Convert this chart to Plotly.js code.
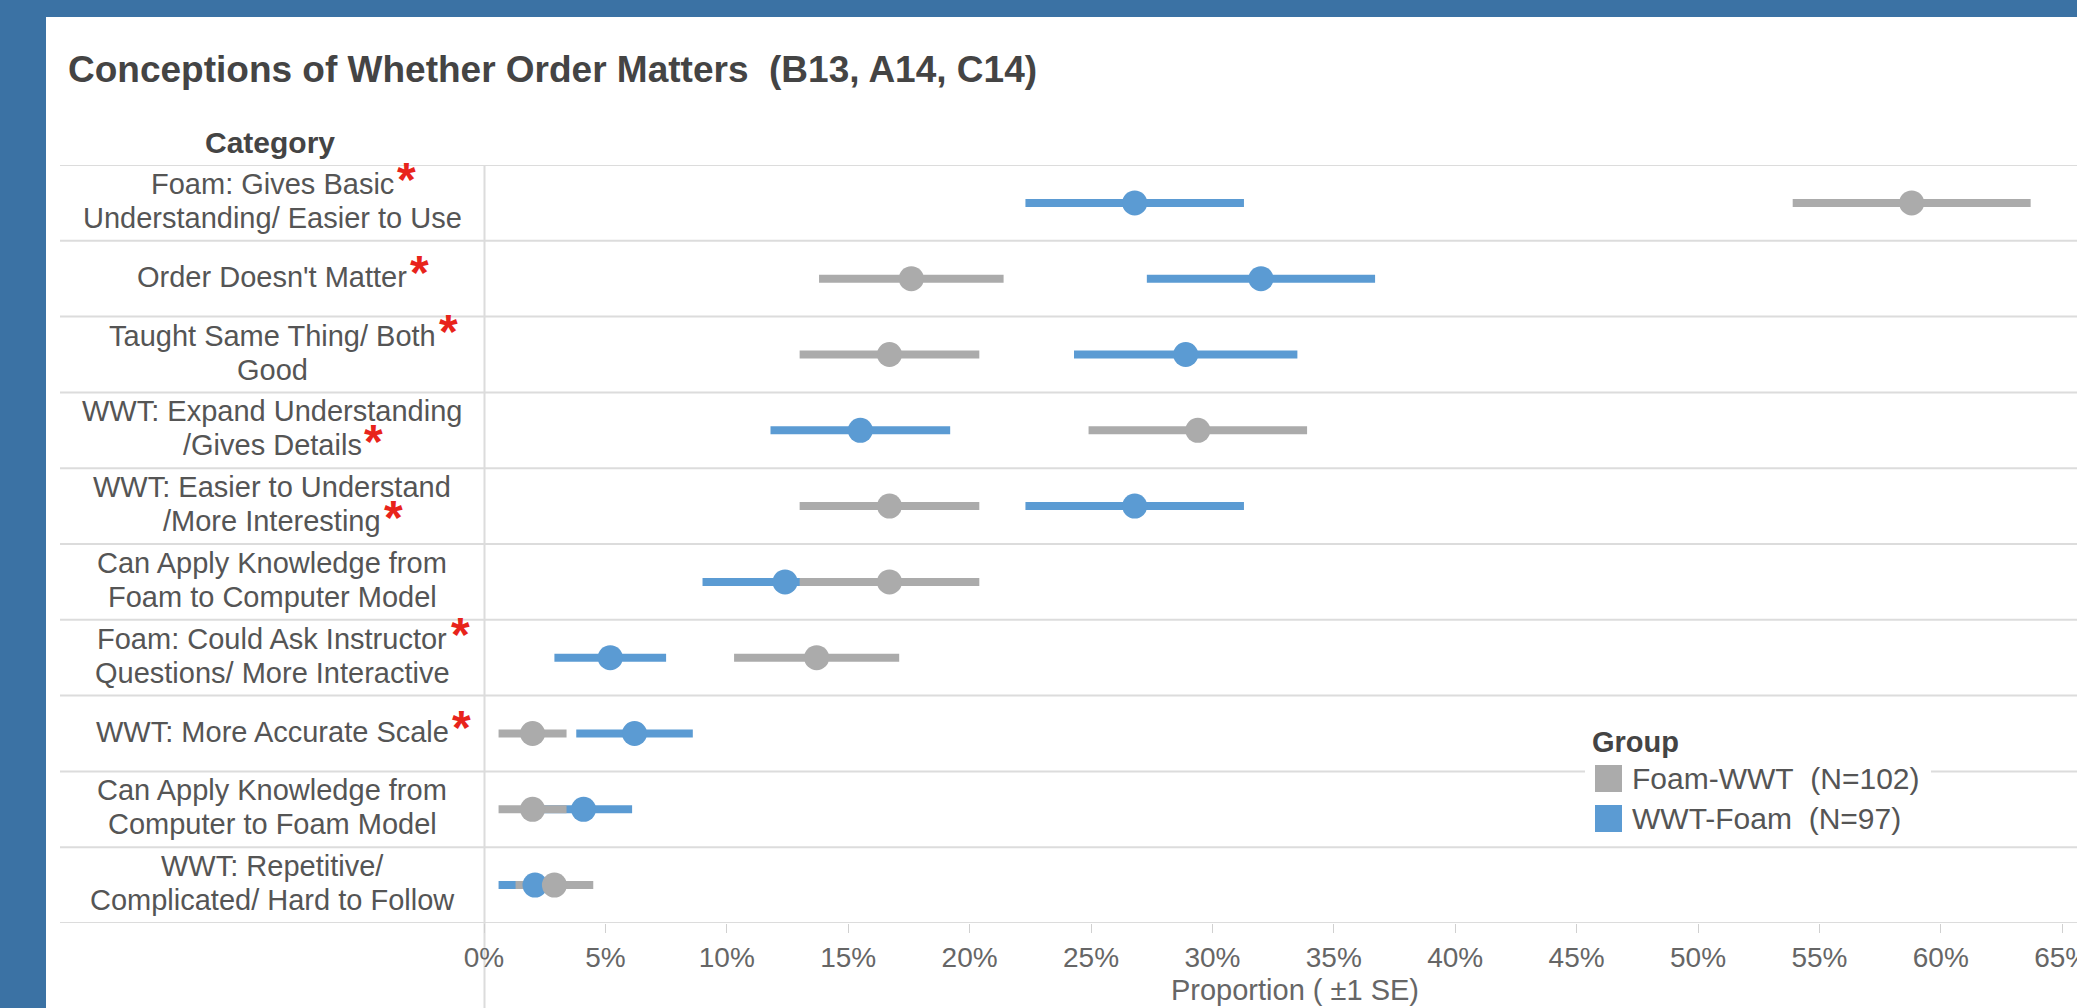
<!DOCTYPE html>
<html>
<head>
<meta charset="utf-8">
<script src="https://cdn.plot.ly/plotly-3.0.1.min.js"></script>
<style>
html, body { margin:0; padding:0; width:2077px; height:1008px; overflow:hidden; background:#3b72a4; }
#frame { position:absolute; left:46px; top:17px; right:0; bottom:0; background:#ffffff; }
#chart { position:absolute; left:0; top:0; width:2106px; height:1008px; }
</style>
</head>
<body>
<div id="frame"></div>
<div id="chart"></div>
<script>
// ---- data ----
const categoryLines = [
  ["Foam: Gives Basic", "Understanding/ Easier to Use"],
  ["Order Doesn't Matter"],
  ["Taught Same Thing/ Both", "Good"],
  ["WWT: Expand Understanding", "/Gives Details"],
  ["WWT: Easier to Understand", "/More Interesting"],
  ["Can Apply Knowledge from", "Foam to Computer Model"],
  ["Foam: Could Ask Instructor", "Questions/ More Interactive"],
  ["WWT: More Accurate Scale"],
  ["Can Apply Knowledge from", "Computer to Foam Model"],
  ["WWT: Repetitive/", "Complicated/ Hard to Follow"]
];
// line of the label that carries the red significance asterisk (-1 = none)
const starLine = [0, 0, 0, 1, 1, -1, 0, 0, -1, -1];
const groupNames = ["Foam-WWT\u00a0 (N=102)", "WWT-Foam\u00a0 (N=97)"];
const foamWwtProp = [0.588, 0.176, 0.167, 0.294, 0.167, 0.167, 0.137, 0.020, 0.020, 0.029];
const foamWwtSE   = [0.049, 0.038, 0.037, 0.045, 0.037, 0.037, 0.034, 0.014, 0.014, 0.016];
const wwtFoamProp = [0.268, 0.320, 0.289, 0.155, 0.268, 0.124, 0.052, 0.062, 0.041, 0.021];
const wwtFoamSE   = [0.045, 0.047, 0.046, 0.037, 0.045, 0.034, 0.023, 0.024, 0.020, 0.015];

const titleText = "Conceptions of Whether Order Matters\u00a0 (B13, A14, C14)";
const rowHeaderText = "Category";
const legendTitleText = "Group";
const xTitleText = "Proportion ( \u00b11 SE)";

// ---- styling / geometry ----
const GRAY = "#ababab", BLUE = "#5b9bd3";
const FONT = "Arial, 'Liberation Sans', sans-serif";
const LABEL_SIZE = 29, LINE_PITCH = 34;
const W = 2106, H = 1008, L = 484, T = 165, B = 85;
const PX_PER_UNIT = 2428;
const px = x => (x - L) / (W - L);
const py = y => (H - B - y) / (H - T - B);

const categories = categoryLines.map(l => l.join("<br>"));

const ctx = document.createElement("canvas").getContext("2d");
ctx.font = LABEL_SIZE + "px " + FONT;
const textWidth = s => ctx.measureText(s).width;

function barTrace(xs, se, color, name) {
  return { type: "scatter", mode: "markers", x: xs, y: categories, name: name,
    showlegend: false, hoverinfo: "skip",
    marker: { size: 2, opacity: 0, color: color },
    error_x: { type: "data", array: se, visible: true, thickness: 8, width: 0, color: color } };
}
function dotTrace(xs, color, name) {
  return { type: "scatter", mode: "markers", x: xs, y: categories, name: name,
    showlegend: false, marker: { size: 25, color: color, line: { width: 0 } } };
}

const data = [
  barTrace(wwtFoamProp, wwtFoamSE, BLUE, groupNames[1]),
  barTrace(foamWwtProp, foamWwtSE, GRAY, groupNames[0]),
  dotTrace(wwtFoamProp, BLUE, groupNames[1]),
  dotTrace(foamWwtProp, GRAY, groupNames[0])
];

const shapes = [];
for (let k = 0; k <= categories.length; k++) {
  shapes.push({ type: "line", layer: "below", xref: "paper", yref: "y",
    x0: px(60), x1: 1.05, y0: k - 0.5, y1: k - 0.5, line: { color: "#dcdcdc", width: 2 } });
}
shapes.push({ type: "line", layer: "below", xref: "paper", yref: "paper",
  x0: px(484.5), x1: px(484.5), y0: py(1010), y1: 1, line: { color: "#dcdcdc", width: 2 } });
// legend box background and colour swatches
shapes.push({ type: "rect", layer: "below", xref: "paper", yref: "paper",
  x0: px(1585), x1: px(1931), y0: py(842), y1: py(728), fillcolor: "#ffffff", line: { width: 0 } });
shapes.push({ type: "rect", layer: "above", xref: "paper", yref: "paper",
  x0: px(1595), x1: px(1622), y0: py(792), y1: py(765), fillcolor: GRAY, line: { width: 0 } });
shapes.push({ type: "rect", layer: "above", xref: "paper", yref: "paper",
  x0: px(1595), x1: px(1622), y0: py(832), y1: py(805), fillcolor: BLUE, line: { width: 0 } });

const annotations = [];
const LABEL_X = px(272);
categoryLines.forEach((lines, i) => {
  const n = lines.length;
  lines.forEach((s, j) => {
    const shift = ((n - 1) / 2 - j) * LINE_PITCH + 2;
    annotations.push({ text: s, xref: "paper", yref: "y", x: LABEL_X, y: categories[i],
      xanchor: "center", yanchor: "middle", yshift: shift, showarrow: false,
      font: { family: FONT, size: LABEL_SIZE, color: "#555555" } });
    if (j === starLine[i]) {
      annotations.push({ text: "<b>*</b>", xref: "paper", yref: "y", x: LABEL_X, y: categories[i],
        xanchor: "left", yanchor: "middle", xshift: textWidth(s) / 2 + 1, yshift: shift + 4,
        showarrow: false, font: { family: FONT, size: 48, color: "#e8231b" } });
    }
  });
});
annotations.push({ text: "<b>" + rowHeaderText + "</b>", xref: "paper", yref: "paper",
  x: px(270), y: py(143), xanchor: "center", yanchor: "middle", showarrow: false,
  font: { family: FONT, size: 30, color: "#444444" } });
annotations.push({ text: "<b>" + legendTitleText + "</b>", xref: "paper", yref: "paper",
  x: px(1590), y: py(742), xanchor: "left", yanchor: "middle", showarrow: false,
  font: { family: FONT, size: 29, color: "#444444" } });
annotations.push({ text: groupNames[0], xref: "paper", yref: "paper",
  x: px(1630), y: py(778), xanchor: "left", yanchor: "middle", showarrow: false,
  font: { family: FONT, size: 30, color: "#555555" } });
annotations.push({ text: groupNames[1], xref: "paper", yref: "paper",
  x: px(1630), y: py(818), xanchor: "left", yanchor: "middle", showarrow: false,
  font: { family: FONT, size: 30, color: "#555555" } });

const layout = {
  width: W, height: H,
  margin: { l: L, r: 0, t: T, b: B, pad: 0 },
  paper_bgcolor: "rgba(0,0,0,0)", plot_bgcolor: "rgba(0,0,0,0)",
  showlegend: false,
  title: { text: titleText, xref: "container", yref: "container",
    x: 68 / W, xanchor: "left", y: 1 - 69 / H, yanchor: "middle",
    font: { family: FONT, size: 37, color: "#444444", weight: "bold" } },
  xaxis: {
    range: [0, (W - L) / PX_PER_UNIT], dtick: 0.05, tick0: 0, tickformat: ".0%",
    showgrid: false, zeroline: false, showline: false,
    ticks: "outside", ticklen: 9, tickwidth: 1, tickcolor: "#d0d0d0",
    tickfont: { family: FONT, size: 28, color: "#666666" },
    title: { text: xTitleText, standoff: 8, font: { family: FONT, size: 29, color: "#666666" } },
    fixedrange: true
  },
  yaxis: {
    type: "category", categoryorder: "array", categoryarray: categories,
    range: [categories.length - 0.5, -0.5],
    showticklabels: false, showgrid: false, zeroline: false, showline: false, ticks: "",
    fixedrange: true
  },
  shapes: shapes,
  annotations: annotations
};

Plotly.newPlot("chart", data, layout, { displayModeBar: false, staticPlot: true });
</script>
</body>
</html>
